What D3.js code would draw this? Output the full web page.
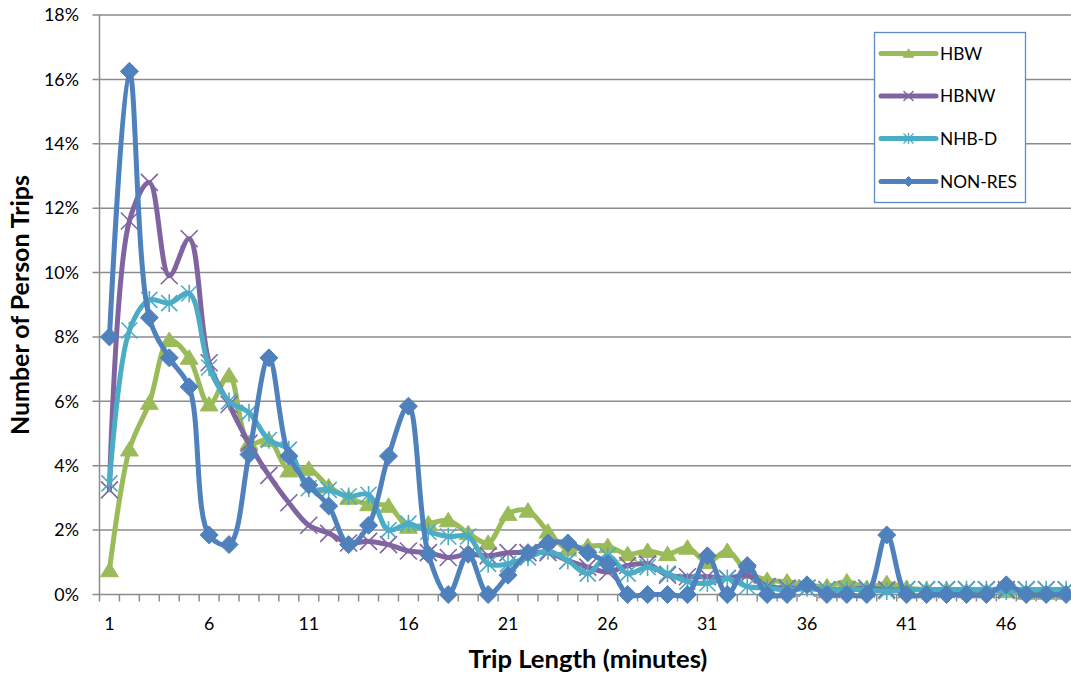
<!DOCTYPE html>
<html><head><meta charset="utf-8">
<script src="https://cdn.jsdelivr.net/npm/d3@7"></script>
<style>
html,body{margin:0;padding:0;background:#fff;}
svg{display:block;font-family:Lato,"Liberation Sans",sans-serif;}
</style></head>
<body><svg id="chart" width="1071" height="679"></svg>
<script>
const categories = d3.range(1, 50);
const xTickLabels = [1, 6, 11, 16, 21, 26, 31, 36, 41, 46];
const yTicks = [0, 0.02, 0.04, 0.06, 0.08, 0.10, 0.12, 0.14, 0.16, 0.18];

const HBW = [0.75,4.5,5.95,7.9,7.35,5.9,6.8,4.7,4.8,3.85,3.9,3.35,3.0,2.8,2.75,2.1,2.2,2.3,1.9,1.6,2.5,2.6,1.95,1.4,1.5,1.5,1.25,1.35,1.25,1.45,1.0,1.35,0.7,0.45,0.4,0.3,0.25,0.4,0.2,0.35,0.2,0.15,0.15,0.1,0.1,0.1,0.05,0.05,0.05];
const HBNW = [3.25,11.6,12.8,9.9,11.05,7.2,5.9,4.7,3.7,2.85,2.15,1.9,1.6,1.65,1.55,1.35,1.3,1.15,1.25,1.2,1.3,1.3,1.3,1.05,0.85,0.7,0.9,0.95,0.6,0.55,0.55,0.5,0.6,0.25,0.2,0.2,0.15,0.15,0.2,0.15,0.15,0.15,0.15,0.15,0.15,0.15,0.15,0.15,0.15];
const NHBD = [3.45,8.2,9.15,9.05,9.35,7.05,6.0,5.65,4.8,4.5,3.3,3.25,3.05,3.1,2.0,2.2,1.95,1.8,1.8,0.95,0.95,1.15,1.35,1.05,0.65,1.2,0.65,0.85,0.65,0.4,0.35,0.5,0.25,0.2,0.15,0.2,0.15,0.15,0.15,0.1,0.15,0.15,0.15,0.15,0.15,0.1,0.15,0.15,0.15];
const NONRES = [8.0,16.25,8.6,7.35,6.45,1.85,1.55,4.35,7.35,4.3,3.4,2.75,1.55,2.15,4.3,5.85,1.25,0,1.25,0,0.6,1.3,1.6,1.6,1.3,0.95,0,0,0,0,1.2,0,0.9,0,0,0.3,0,0,0,1.85,0,0,0,0,0,0.3,0,0,0];

const seriesNames = ["HBW", "HBNW", "NHB-D", "NON-RES"];
const seriesColors = ["#9BBB59", "#8064A2", "#4BACC6", "#4F81BD"];
const seriesMarkers = ["triangle", "x", "star", "diamond"];
const seriesValues = [HBW, HBNW, NHBD, NONRES];

const svg = d3.select("#chart");
const FONT = "Lato,'Liberation Sans',sans-serif";
const plotLeft = 99.5, plotTop = 15, plotBottom = 594.5, band = 19.93;
const x = d3.scaleBand().domain(categories).range([plotLeft, plotLeft + band * categories.length]).padding(0);
const cx = c => x(c) + x.bandwidth() / 2;
const y = d3.scaleLinear().domain([0, 0.18]).range([plotBottom, plotTop]);
const W = 1071;

// font size that makes a sample string a given width
function fitSize(str, targetW, weight) {
  const t = svg.append("text").attr("font-family", FONT).attr("font-size", 20)
    .attr("font-weight", weight || "normal").text(str);
  const w = t.node().getComputedTextLength();
  t.remove();
  return 20 * targetW / w;
}
const tickFs = fitSize("12%", 35);
const xTitleFs = fitSize("Trip Length (minutes)", 239, "bold");
const yTitleFs = fitSize("Number of Person Trips", 260, "bold");
const legendFs = fitSize("NON-RES", 77);

svg.append("g").selectAll("line").data(yTicks).join("line")
  .attr("x1", plotLeft - 7).attr("x2", W).attr("y1", d => y(d)).attr("y2", d => y(d))
  .attr("stroke", "#8c8c8c").attr("stroke-width", 1.5);

svg.append("line").attr("x1", plotLeft).attr("x2", plotLeft).attr("y1", plotTop).attr("y2", plotBottom)
  .attr("stroke", "#8c8c8c").attr("stroke-width", 1.5);

const yAxis = d3.axisLeft(y).tickValues(yTicks).tickFormat(d3.format(".0%")).tickSize(0).tickPadding(20.5);
const yg = svg.append("g").attr("transform", `translate(${plotLeft},0)`).call(yAxis);
yg.select(".domain").remove();
yg.selectAll("text").attr("font-size", tickFs).attr("fill", "#000").attr("font-family", FONT);

const bounds = categories.map(c => x(c)).concat([x(categories[categories.length - 1]) + x.bandwidth()]);
svg.append("g").selectAll("line").data(bounds).join("line")
  .attr("x1", d => d).attr("x2", d => d).attr("y1", plotBottom).attr("y2", plotBottom + 7)
  .attr("stroke", "#8c8c8c").attr("stroke-width", 1.5);

const xAxis = d3.axisBottom(x).tickValues(xTickLabels).tickSize(0).tickPadding(0);
const xg = svg.append("g").attr("transform", `translate(0,${plotBottom})`).call(xAxis);
xg.select(".domain").remove();
xg.selectAll("text").attr("font-size", tickFs).attr("fill", "#000").attr("font-family", FONT)
  .attr("y", 35).attr("dy", null);

svg.append("text").attr("x", 588).attr("y", 668).attr("text-anchor", "middle").attr("font-family", FONT)
  .attr("font-size", xTitleFs).attr("font-weight", "bold").text("Trip Length (minutes)");
svg.append("text").attr("transform", "translate(29,305) rotate(-90)").attr("text-anchor", "middle").attr("font-family", FONT)
  .attr("font-size", yTitleFs).attr("font-weight", "bold").text("Number of Person Trips");

function markerPath(type, s) {
  if (type === "triangle") return `M0,${-s*0.95}L${s*1.05},${s*0.75}L${-s*1.05},${s*0.75}Z`;
  if (type === "diamond") return `M0,${-s}L${s},0L0,${s}L${-s},0Z`;
  if (type === "x") return `M${-s},${-s}L${s},${s}M${-s},${s}L${s},${-s}`;
  if (type === "star") return `M${-s},${-s}L${s},${s}M${-s},${s}L${s},${-s}M0,${-s*1.1}L0,${s*1.1}`;
}
const markerSize = {triangle: 8.5, diamond: 9, x: 8.5, star: 8};

const line = d3.line().x((d, i) => cx(categories[i])).y(d => y(d / 100)).curve(d3.curveCatmullRom.alpha(0.5));

seriesValues.forEach((vals, si) => {
  const g = svg.append("g");
  const col = seriesColors[si], mk = seriesMarkers[si];
  g.append("path").datum(vals).attr("d", line).attr("fill", "none")
    .attr("stroke", col).attr("stroke-width", 5).attr("stroke-linejoin", "round").attr("stroke-linecap", "round");
  const filled = (mk === "triangle" || mk === "diamond");
  g.selectAll("path.m").data(vals).join("path").attr("class", "m")
    .attr("transform", (d, i) => `translate(${cx(categories[i])},${y(d / 100)})`)
    .attr("d", markerPath(mk, markerSize[mk]))
    .attr("fill", filled ? col : "none").attr("stroke", col).attr("stroke-width", filled ? 1 : 1.6);
});

const lg = svg.append("g");
lg.append("rect").attr("x", 874.5).attr("y", 32.5).attr("width", 151).attr("height", 170)
  .attr("fill", "#fff").attr("stroke", "#5b8ac6").attr("stroke-width", 1.3);
const rowY = [53.5, 96, 138.5, 181.5];
seriesNames.forEach((n, i) => {
  const col = seriesColors[i], mk = seriesMarkers[i];
  lg.append("line").attr("x1", 881).attr("x2", 936).attr("y1", rowY[i]).attr("y2", rowY[i])
    .attr("stroke", col).attr("stroke-width", 5).attr("stroke-linecap", "round");
  const filled = (mk === "triangle" || mk === "diamond");
  lg.append("path").attr("transform", `translate(908.5,${rowY[i]})`).attr("d", markerPath(mk, 5))
    .attr("fill", filled ? col : "none").attr("stroke", col).attr("stroke-width", filled ? 1 : 1.4);
  lg.append("text").attr("x", 940).attr("y", rowY[i]).attr("dy", "0.36em").attr("font-family", FONT)
    .attr("font-size", legendFs).text(n);
});
</script></body></html>
